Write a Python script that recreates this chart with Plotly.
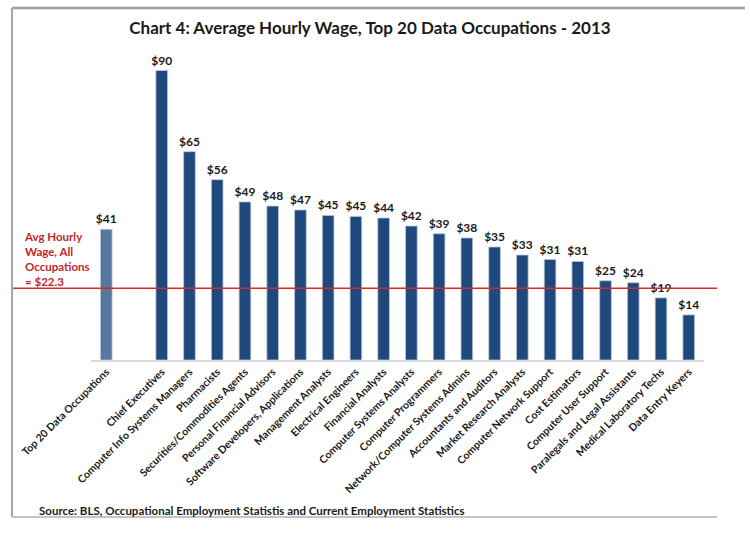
import plotly.graph_objects as go

categories = ["Top 20 Data Occupations", " ", "Chief Executives", "Computer Info Systems Managers",
              "Pharmacists", "Securities/Commodities Agents", "Personal Financial Advisors",
              "Software Developers, Applications", "Management Analysts", "Electrical Engineers",
              "Financial Analysts", "Computer Systems Analysts", "Computer Programmers",
              "Network/Computer Systems Admins", "Accountants and Auditors", "Market Research Analysts",
              "Computer Network Support", "Cost Estimators", "Computer User Support",
              "Paralegals and Legal Assistants", "Medical Laboratory Techs", "Data Entry Keyers"]
wages = [40.6, None, 89.9, 64.7, 56.0, 49.1, 47.8, 46.6, 44.9, 44.6, 44.1, 41.6, 39.2,
         37.9, 35.1, 32.6, 31.2, 30.6, 24.6, 24.0, 19.3, 14.0]
labels = ["$41", "", "$90", "$65", "$56", "$49", "$48", "$47", "$45", "$45", "$44", "$42",
          "$39", "$38", "$35", "$33", "$31", "$31", "$25", "$24", "$19", "$14"]
avg_all = 22.3

W, H = 750, 534
ML, MR, MT, MB = 91, 46, 38, 174
plot_w = W - ML - MR
plot_h = H - MT - MB


def px_x(px):
    return (px - ML) / plot_w


def px_y(py):
    return (H - MB - py) / plot_h


bar_colors = ["#5877a0"] + ["#1f497d"] * (len(categories) - 1)
font_family = "Lato, 'Open Sans', sans-serif"

fig = go.Figure()
fig.add_trace(go.Bar(
    x=categories, y=wages, text=labels, textposition="outside", constraintext="none",
    textfont=dict(family=font_family, size=12, color="#1a1a1a", weight="bold"),
    marker=dict(color=bar_colors, line=dict(color="#b8c8dc", width=0.8)),
    width=0.42, cliponaxis=False, hoverinfo="skip",
))

# average wage line across the frame
fig.add_shape(type="line", xref="paper", yref="y", x0=px_x(12), x1=px_x(717), y0=avg_all, y1=avg_all,
              line=dict(color="#d42a2a", width=1.6))

fig.add_annotation(xref="paper", yref="y", x=px_x(22), y=avg_all - 0.6, xanchor="left", yanchor="bottom",
                   text="Avg Hourly<br>Wage, All<br>Occupations<br>= $%.1f" % avg_all,
                   showarrow=False, align="left",
                   font=dict(family=font_family, size=11.5, color="#c0282d", weight="bold"))

# outer frame: top, left, bottom
fig.add_shape(type="line", xref="paper", yref="paper", x0=px_x(12), x1=px_x(745), y0=px_y(8), y1=px_y(8),
              line=dict(color="#a0a0a0", width=2.5))
fig.add_shape(type="line", xref="paper", yref="paper", x0=px_x(12), x1=px_x(12), y0=px_y(8), y1=px_y(517),
              line=dict(color="#a6a6a6", width=2))
fig.add_shape(type="line", xref="paper", yref="paper", x0=px_x(12), x1=px_x(717), y0=px_y(517), y1=px_y(517),
              line=dict(color="#c4c4c4", width=2))

fig.add_annotation(xref="paper", yref="paper", x=px_x(37), y=px_y(510), xanchor="left", yanchor="middle",
                   text="Source: BLS, Occupational Employment Statistis and Current Employment Statistics",
                   showarrow=False,
                   font=dict(family=font_family, size=11.5, color="#1a1a1a", weight="bold"))

fig.update_layout(
    width=W, height=H,
    margin=dict(l=ML, r=MR, t=MT, b=MB, autoexpand=False),
    paper_bgcolor="white", plot_bgcolor="white",
    showlegend=False,
    title=dict(text="Chart 4: Average Hourly Wage, Top 20 Data Occupations - 2013",
               x=370 / W, xanchor="center", y=1 - 28 / H, yanchor="middle",
               font=dict(family=font_family, size=17, color="#1a1a1a", weight="bold")),
    xaxis=dict(type="category", tickangle=-45, showline=True, linecolor="#d9d9d9", linewidth=1.5,
               ticks="", showgrid=False, range=[-0.55, 21.55], automargin=False,
               tickfont=dict(family=font_family, size=10.5, color="#1a1a1a", weight="bold")),
    yaxis=dict(range=[0, 100], visible=False, showgrid=False, zeroline=False, automargin=False),
)

fig.write_html("out.html", config={"displayModeBar": False},
               post_script="document.body.style.margin='0';document.body.style.overflow='hidden';")
